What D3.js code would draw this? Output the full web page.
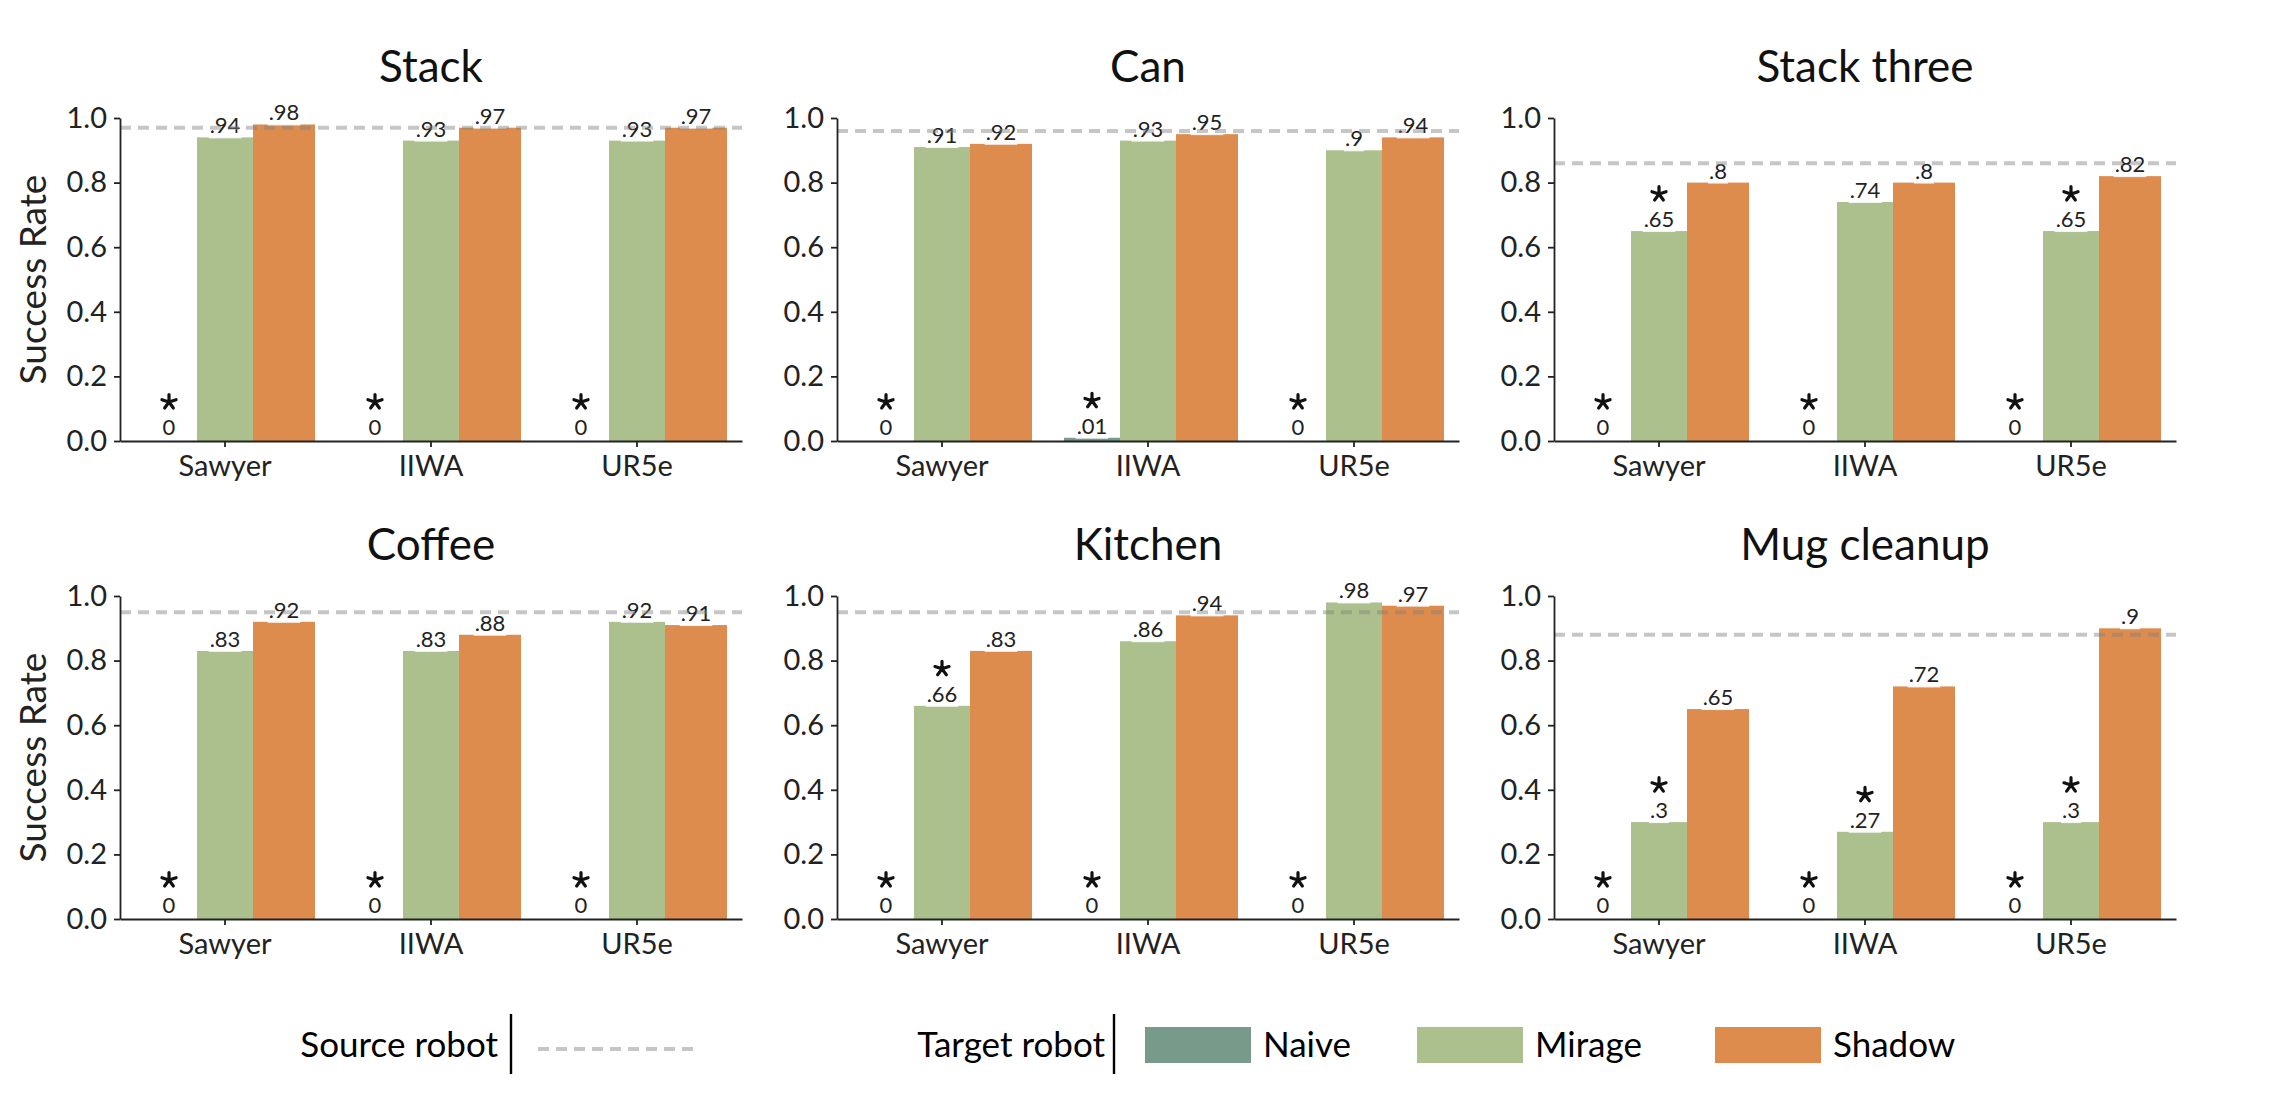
<!DOCTYPE html>
<html>
<head>
<meta charset="utf-8">
<script src="https://cdn.jsdelivr.net/npm/d3@7"></script>
<style>
  body { margin: 0; background: #fff; }
  text { font-family: Lato, "Open Sans", sans-serif; font-weight: 400; }
</style>
</head>
<body>
<div id="chart"></div>
<script>
var tasks = ["Stack", "Can", "Stack three", "Coffee", "Kitchen", "Mug cleanup"];
var robots = ["Sawyer", "IIWA", "UR5e"];
var methods = ["Naive", "Mirage", "Shadow"];
var colors = ["#789a8a", "#abc08c", "#de8c4e"];

// success rates per task, one value per robot
var naive = [[0, 0, 0], [0, .01, 0], [0, 0, 0], [0, 0, 0], [0, 0, 0], [0, 0, 0]];
var mirage = [[.94, .93, .93], [.91, .93, .9], [.65, .74, .65], [.83, .83, .92], [.66, .86, .98], [.3, .27, .3]];
var shadow = [[.98, .97, .97], [.92, .95, .94], [.8, .8, .82], [.92, .88, .91], [.83, .94, .97], [.65, .72, .9]];
var source = [.97, .96, .86, .95, .95, .88];
// 1 = marked with a star
var naiveStar = [[1, 1, 1], [1, 1, 1], [1, 1, 1], [1, 1, 1], [1, 1, 1], [1, 1, 1]];
var mirageStar = [[0, 0, 0], [0, 0, 0], [1, 0, 1], [0, 0, 0], [1, 0, 0], [1, 1, 1]];
var yTicks = [0, 0.2, 0.4, 0.6, 0.8, 1.0];

var width = 2280, height = 1102,
    panelW = 622, panelH = 323,
    lefts = [120, 837, 1554],
    tops = [118, 596];

var svg = d3.select("#chart").append("svg")
  .attr("width", width)
  .attr("height", height);

var xScale0 = d3.scaleBand().domain(robots).range([0, panelW]).paddingInner(0.1845).paddingOuter(0.102);
var xScale1 = d3.scaleBand().domain(methods).range([0, xScale0.bandwidth()]);
var yScale = d3.scaleLinear().domain([0, 1]).range([panelH, 0]);

var fmt = v => v === 0 ? "0" : String(v).replace(/^0\./, ".");

function starPath(r) {
  var p = "";
  for (var k = 0; k < 5; k++) {
    var a = -Math.PI / 2 + k * 2 * Math.PI / 5;
    p += "M0,0L" + (r * Math.cos(a)).toFixed(2) + "," + (r * Math.sin(a)).toFixed(2);
  }
  return p;
}

function dashed(sel) {
  return sel.style("stroke", "#808080")
    .style("stroke-opacity", 0.45)
    .style("stroke-width", 4)
    .style("stroke-dasharray", "11,7");
}

tasks.forEach((task, i) => {
  var g = svg.append("g")
    .attr("transform", `translate(${lefts[i % 3]},${tops[Math.floor(i / 3)]})`);

  var rows = robots.map((r, j) => ({
    robot: r,
    vals: [naive[i][j], mirage[i][j], shadow[i][j]],
    stars: [naiveStar[i][j], mirageStar[i][j], 0]
  }));

  // title
  g.append("text")
    .attr("x", panelW / 2)
    .attr("y", -36)
    .attr("text-anchor", "middle")
    .style("font-size", "44px")
    .style("fill", "#111")
    .text(task);

  var groups = g.selectAll(".robot")
    .data(rows)
    .enter().append("g")
    .attr("class", "robot")
    .attr("transform", d => `translate(${xScale0(d.robot)},0)`);

  groups.selectAll("rect.bar")
    .data(d => d.vals.map((v, k) => ({m: methods[k], k: k, v: v})))
    .enter().append("rect")
    .attr("class", "bar")
    .attr("x", d => xScale1(d.m))
    .attr("y", d => yScale(d.v))
    .attr("width", d => xScale1.bandwidth() + (d.k === 2 ? 6 : 0))
    .attr("height", d => panelH - yScale(d.v))
    .style("fill", d => colors[d.k]);

  // source robot line
  g.append("line")
    .attr("x1", 0).attr("x2", panelW)
    .attr("y1", yScale(source[i])).attr("y2", yScale(source[i]))
    .call(dashed);

  // value labels
  groups.each(function(d) {
    var grp = d3.select(this);
    d.vals.forEach((v, k) => {
      var cx = xScale1(methods[k]) + (xScale1.bandwidth() + (k === 2 ? 6 : 0)) / 2;
      var base = yScale(v) - (v === 0 ? 6 : 4);
      var lg = grp.append("g");
      var bg = lg.append("rect").style("fill", "#fff").style("opacity", 0.85);
      var t = lg.append("text")
        .attr("x", cx)
        .attr("y", base)
        .attr("text-anchor", "middle")
        .style("font-size", "22px")
        .style("fill", "#222")
        .text(fmt(v));
      var bb = t.node().getBBox();
      bg.attr("x", bb.x - 1).attr("y", bb.y).attr("width", bb.width + 2).attr("height", bb.height);
      if (d.stars[k]) {
        grp.append("path")
          .attr("transform", `translate(${cx},${base - 33})`)
          .attr("d", starPath(7.4))
          .style("stroke", "#111")
          .style("stroke-width", 3.2)
          .style("stroke-linecap", "round");
      }
    });
  });

  var yAxis = d3.axisLeft(yScale).tickValues(yTicks).tickFormat(d3.format(".1f"))
    .tickSize(6).tickSizeOuter(0).tickPadding(7);
  var xAxis = d3.axisBottom(xScale0).tickSize(6).tickSizeOuter(0).tickPadding(8);

  var ya = g.append("g").attr("class", "y axis").call(yAxis);
  var xa = g.append("g").attr("class", "x axis")
    .attr("transform", `translate(0,${panelH})`)
    .call(xAxis);

  [ya, xa].forEach(a => {
    a.select(".domain").style("stroke", "#222").style("stroke-width", 1.8);
    a.selectAll(".tick line").style("stroke", "#222").style("stroke-width", 1.8);
    a.selectAll(".tick text").style("fill", "#222")
      .style("font-family", "Lato, sans-serif").style("font-weight", 400);
  });
  ya.selectAll(".tick text").style("font-size", "29px");
  xa.selectAll(".tick text").style("font-size", "29px");

  if (i % 3 === 0) {
    g.append("text")
      .attr("transform", "rotate(-90)")
      .attr("x", -panelH / 2)
      .attr("y", -87)
      .attr("dy", "0.35em")
      .attr("text-anchor", "middle")
      .style("font-size", "37px")
      .style("fill", "#222")
      .text("Success Rate");
  }
});

// legend
var leg = svg.append("g");
var legFont = "35px";
leg.append("text").attr("x", 498).attr("y", 1057).attr("text-anchor", "end")
  .style("font-size", legFont).text("Source robot");
leg.append("line").attr("x1", 511).attr("x2", 511).attr("y1", 1014).attr("y2", 1074)
  .style("stroke", "#000").style("stroke-width", 2.4);
leg.append("line").attr("x1", 538).attr("x2", 695).attr("y1", 1049).attr("y2", 1049)
  .call(dashed);

leg.append("text").attr("x", 1105).attr("y", 1057).attr("text-anchor", "end")
  .style("font-size", legFont).text("Target robot");
leg.append("line").attr("x1", 1114).attr("x2", 1114).attr("y1", 1014).attr("y2", 1074)
  .style("stroke", "#000").style("stroke-width", 2.4);

var swatchX = [1145, 1417, 1715];
var items = leg.selectAll(".item")
  .data(methods)
  .enter().append("g")
  .attr("class", "item")
  .attr("transform", (d, k) => `translate(${swatchX[k]},0)`);
items.append("rect")
  .attr("x", 0).attr("y", 1027).attr("width", 106).attr("height", 36)
  .style("fill", (d, k) => colors[k]);
items.append("text")
  .attr("x", 118).attr("y", 1057)
  .style("font-size", legFont)
  .text(d => d);
</script>
</body>
</html>
